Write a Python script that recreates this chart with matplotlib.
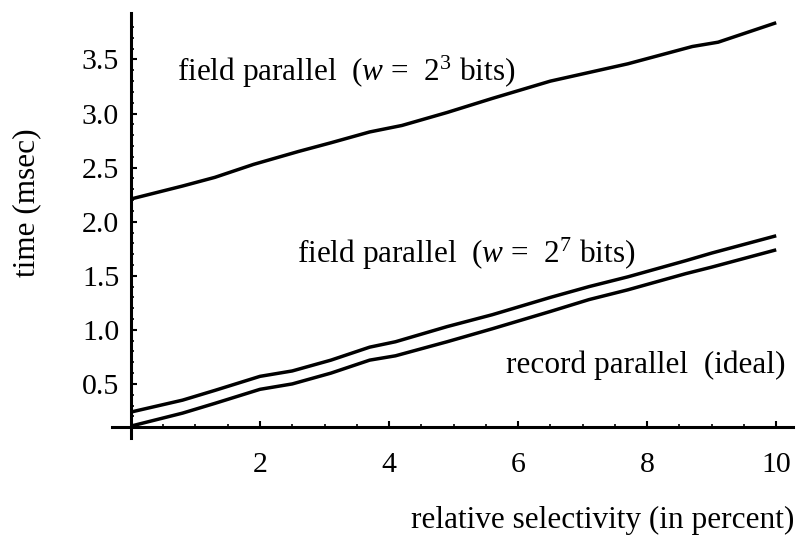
import matplotlib
matplotlib.use('Agg')
import matplotlib.pyplot as plt
from matplotlib.ticker import FixedLocator

plt.rcParams['font.family'] = ['Liberation Serif', 'DejaVu Serif']
plt.rcParams['mathtext.fontset'] = 'custom'
plt.rcParams['mathtext.rm'] = 'Liberation Serif'
plt.rcParams['mathtext.it'] = 'Liberation Serif:italic'

# values (selectivity in percent, time in msec)
x_w3 = [0, 0.8, 1.3, 1.9, 2.6, 3.1, 3.7, 4.2, 4.9, 5.6, 6.5, 7.1, 7.7, 8.7, 9.1, 10]
t_w3 = [2.21, 2.33, 2.41, 2.53, 2.65, 2.73, 2.83, 2.89, 3.01, 3.14, 3.30, 3.38, 3.46, 3.62, 3.66, 3.84]

x_low = [0, 0.8, 1.3, 2.0, 2.5, 3.1, 3.7, 4.1, 4.9, 5.6, 6.5, 7.1, 7.7, 8.6, 9.0, 10]
t_w7 = [0.24, 0.35, 0.44, 0.57, 0.62, 0.72, 0.84, 0.89, 1.03, 1.14, 1.30, 1.40, 1.49, 1.64, 1.71, 1.87]
t_ideal = [0.11, 0.23, 0.32, 0.45, 0.50, 0.60, 0.72, 0.76, 0.89, 1.01, 1.17, 1.28, 1.37, 1.52, 1.58, 1.74]

xticks = [2, 4, 6, 8, 10]
yticks = [0.5, 1.0, 1.5, 2.0, 2.5, 3.0, 3.5]

fs = 22.5      # annotations and axis labels
fs_tick = 21.5

fig = plt.figure(figsize=(8.01, 5.39), dpi=100)
ax = fig.add_axes([0.1393, 0.1874, 0.8507, 0.7885])

ax.plot(x_w3, t_w3, color='black', lw=2.5, solid_capstyle='butt')
ax.plot(x_low, t_w7, color='black', lw=2.5, solid_capstyle='butt')
ax.plot(x_low, t_ideal, color='black', lw=2.5, solid_capstyle='butt')

ax.set_xlim(-0.3, 10.26)
ax.set_ylim(0.0, 3.93)

# mathematica style axes crossing at (0, 0.1)
for s in ['top', 'right']:
    ax.spines[s].set_visible(False)
ax.spines['left'].set_position(('data', 0))
ax.spines['bottom'].set_position(('data', 0.1))
ax.spines['left'].set_linewidth(2.2)
ax.spines['bottom'].set_linewidth(2.2)

ax.xaxis.set_major_locator(FixedLocator(xticks))
ax.yaxis.set_major_locator(FixedLocator(yticks))
ax.xaxis.set_minor_locator(FixedLocator([v / 2 for v in range(1, 21) if v % 4 != 0]))
ax.yaxis.set_minor_locator(FixedLocator([v / 10 for v in range(2, 39) if v % 5 != 0]))
ax.set_xticklabels([str(v) for v in xticks])
ax.set_yticklabels(['%.1f' % v for v in yticks])

ax.tick_params(axis='both', which='major', direction='in', length=4, width=1.5, labelsize=fs_tick)
ax.tick_params(axis='both', which='minor', direction='in', length=2.5, width=1.2)
ax.tick_params(axis='x', which='major', pad=18)
ax.tick_params(axis='y', which='major', pad=8.5)

ax.text(0.71, 3.30, r'field parallel  ($w$ =  $2^3$ bits)', fontsize=fs, va='baseline')
ax.text(2.57, 1.62, r'field parallel  ($w$ =  $2^7$ bits)', fontsize=fs, va='baseline')
ax.text(5.81, 0.6, 'record parallel  (ideal)', fontsize=fs, va='baseline')

fig.text(27 / 801, 1 - 203 / 539, 'time (msec)', fontsize=fs, rotation=90, ha='center', va='center')
fig.text(794 / 801, 4 / 539, 'relative selectivity (in percent)', fontsize=fs, ha='right', va='bottom')

plt.savefig('out.png', dpi=100)
